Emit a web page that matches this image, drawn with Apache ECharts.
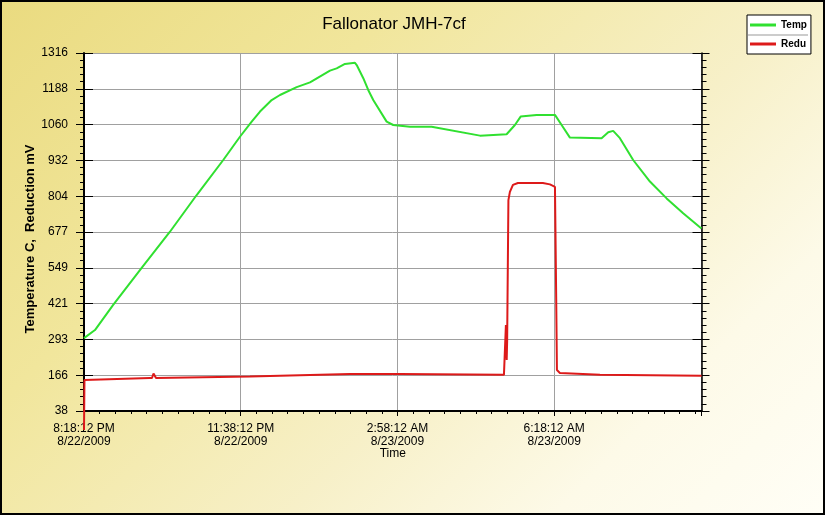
<!DOCTYPE html>
<html>
<head>
<meta charset="utf-8">
<script src="https://cdn.jsdelivr.net/npm/echarts@6/dist/echarts.min.js"></script>
<style>
  html, body { margin: 0; padding: 0; width: 825px; height: 515px; overflow: hidden; }
  #bg { position: absolute; left: 0; top: 0; width: 825px; height: 515px; box-sizing: border-box;
        border: 2px solid #000;
        background: linear-gradient(135deg, #EADB80 0%, #F1E69C 30%, #F7F0C8 60%, #FDFAE8 80%, #FFFEF6 100%); }
  #chart { position: absolute; left: 0; top: 0; width: 825px; height: 515px; }
</style>
</head>
<body>
<div id="bg"></div>
<div id="chart"></div>
<script>
// ---- data (minutes after 8/22/2009 8:18:12 PM) ----
const seriesNames = ['Temp', 'Redu'];
const tempMinutes = [0, 14, 37, 73.6, 109.7, 143.8, 177.7, 199, 214, 224.6, 239.5, 250.1, 271.4, 288.4, 313.9, 322.4, 333, 345.8, 348, 356.4, 362.7, 369.1, 386.2, 394.6, 416, 443.6, 505.3, 539.3, 549.9, 557.2, 577.6, 601, 609.5, 620.1, 660.5, 669, 675.3, 683.9, 700.8, 722.2, 743.5, 764.6, 786, 788];
const tempValues  = [298, 327, 416, 549, 678, 809, 934, 1017, 1071, 1107, 1148, 1166, 1194, 1211, 1253, 1261, 1277, 1281, 1273, 1226, 1184, 1148, 1071, 1059, 1053, 1053, 1021, 1026, 1059, 1089, 1095, 1095, 1059, 1014, 1012, 1033, 1038, 1012, 934, 857, 797, 744, 694, 690];
const reduMinutes = [0, 0.6, 84.2, 86.8, 88.7, 91.9, 211.8, 339.4, 403.2, 535.9, 537.2, 538.4, 539.4, 540, 541.6, 543.5, 547.4, 553.7, 585.6, 594.6, 601, 602.6, 603.5, 607.3, 658.4, 788];
const reduValues  = [-30, 149, 156, 156, 172, 156, 161, 170, 170, 167, 167, 345, 220, 291, 791, 820, 845, 852, 852, 847, 838, 434, 184, 174, 167, 164];
const yTickLabels = ['38', '166', '293', '421', '549', '677', '804', '932', '1060', '1188', '1316'];
const xTickMinutes = [0, 200, 400, 600];

const FONT = '"Liberation Sans", Arial, sans-serif';
const Y_MIN = 38, Y_MAX = 1316, Y_INT = 127.8;
const X_MIN = 0, X_MAX = 788, X_INT = 200;
const start = new Date(2009, 7, 22, 20, 18, 12);

function pad(n) { return (n < 10 ? '0' : '') + n; }
function fmtTime(m) {
  const d = new Date(start.getTime() + m * 60000);
  let h = d.getHours();
  const ap = h >= 12 ? 'PM' : 'AM';
  h = h % 12; if (h === 0) h = 12;
  return h + ':' + pad(d.getMinutes()) + ':' + pad(d.getSeconds()) + ' ' + ap + '\n' +
         (d.getMonth() + 1) + '/' + d.getDate() + '/' + d.getFullYear();
}

const tempData = tempMinutes.map((m, i) => [m, tempValues[i]]);
const reduData = reduMinutes.map((m, i) => [m, reduValues[i]]);

function yAxisBase(extra) {
  return Object.assign({
    type: 'value', min: Y_MIN, max: Y_MAX, interval: Y_INT,
    axisLabel: { show: false }, splitLine: { show: false },
    axisLine: { show: false }, axisTick: { show: false }, minorTick: { show: false }
  }, extra);
}

const chart = echarts.init(document.getElementById('chart'), null, { renderer: 'canvas' });
chart.setOption({
  animation: false,
  title: {
    text: 'Fallonator JMH-7cf', left: 394, top: 16, textAlign: 'center', padding: 0,
    textStyle: { fontFamily: FONT, fontSize: 17, fontWeight: 'normal', color: '#000' }
  },
  legend: {
    orient: 'vertical', left: 747, top: 15, backgroundColor: '#fff', borderColor: '#000', borderWidth: 1,
    padding: [4, 4, 4, 3], itemGap: 7, itemWidth: 26, itemHeight: 3, itemTextGap: 4, icon: 'rect',
    textStyle: { fontFamily: FONT, fontSize: 10, fontWeight: 'bold', color: '#000', lineHeight: 12 },
    data: seriesNames
  },
  graphic: [{
    type: 'line', shape: { x1: 748, y1: 35, x2: 808, y2: 35 },
    style: { stroke: '#999', lineWidth: 1 }, z: 100
  }],
  grid: { left: 84, right: 123.5, top: 53, bottom: 104, show: true, backgroundColor: '#fff', borderWidth: 0 },
  xAxis: {
    type: 'value', min: X_MIN, max: X_MAX, interval: X_INT,
    name: 'Time', nameLocation: 'middle', nameGap: 37, nameMoveOverlap: false,
    nameTextStyle: { fontFamily: FONT, fontSize: 12, color: '#000' },
    axisLine: { show: true, lineStyle: { color: '#000', width: 2 } },
    axisTick: { show: true, inside: false, length: 5, lineStyle: { color: '#000', width: 1 } },
    minorTick: { show: true, splitNumber: 10, length: 3, lineStyle: { color: '#000', width: 1 } },
    splitLine: { show: true, lineStyle: { color: '#A0A0A0', width: 1 } },
    axisLabel: {
      margin: 11, fontFamily: FONT, fontSize: 12, color: '#000', lineHeight: 13,
      formatter: function (v) {
        return xTickMinutes.indexOf(Math.round(v)) >= 0 ? fmtTime(v) : '';
      }
    }
  },
  yAxis: [
    yAxisBase({
      position: 'left',
      name: 'Temperature C,  Reduction mV', nameLocation: 'middle', nameGap: 47, nameRotate: 90,
      nameMoveOverlap: false,
      nameTextStyle: { fontFamily: FONT, fontSize: 13, fontWeight: 'bold', color: '#000', padding: [0, 14, 0, 0] },
      axisLine: { show: true, lineStyle: { color: '#000', width: 2 } },
      axisTick: { show: true, inside: false, length: 8, lineStyle: { color: '#000', width: 1 } },
      minorTick: { show: true, splitNumber: 5, length: 4, lineStyle: { color: '#000', width: 1 } },
      splitLine: { show: true, lineStyle: { color: '#A0A0A0', width: 1 } },
      axisLabel: {
        show: true, margin: 16, fontFamily: FONT, fontSize: 12, color: '#000',
        formatter: function (v) {
          const i = Math.round((v - Y_MIN) / Y_INT);
          return yTickLabels[i] !== undefined ? yTickLabels[i] : '';
        }
      }
    }),
    yAxisBase({
      position: 'left',
      axisTick: { show: true, inside: true, length: 9, lineStyle: { color: '#000', width: 1 } }
    }),
    yAxisBase({
      position: 'right',
      axisLine: { show: true, lineStyle: { color: '#000', width: 1.5 } },
      axisTick: { show: true, inside: false, length: 8, lineStyle: { color: '#000', width: 1 } },
      minorTick: { show: true, splitNumber: 5, length: 5, lineStyle: { color: '#000', width: 1 } }
    }),
    yAxisBase({
      position: 'right',
      axisTick: { show: true, inside: true, length: 9, lineStyle: { color: '#000', width: 1 } }
    })
  ],
  series: [
    {
      name: seriesNames[0], type: 'line', yAxisIndex: 0, data: tempData, showSymbol: false, symbol: 'none',
      color: '#30E030', lineStyle: { color: '#30E030', width: 2 }, z: 3
    },
    {
      name: seriesNames[1], type: 'line', yAxisIndex: 0, data: reduData, showSymbol: false, symbol: 'none',
      clip: false,
      color: '#DD1A1A', lineStyle: { color: '#DD1A1A', width: 2 }, z: 4
    }
  ]
});
</script>
</body>
</html>
